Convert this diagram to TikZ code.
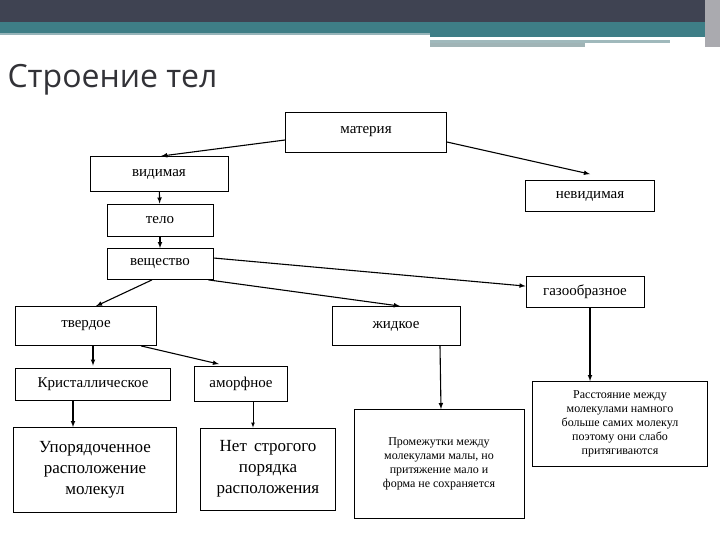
\documentclass[tikz,border=0pt]{standalone}
\usepackage{fontspec}
\setmainfont{Liberation Serif}
\newfontfamily\titlefont{Open Sans}
\begin{document}
\begin{tikzpicture}[x=1pt,y=1pt,
  bx/.style={draw,line width=0.8pt,inner sep=1pt,font=\fontsize{15}{17}\selectfont},
  big/.style={bx,align=center,font=\fontsize{17}{21}\selectfont},
  small/.style={bx,align=center,font=\fontsize{12}{14}\selectfont},
  ar/.style={-latex,line width=1.1pt}]
\useasboundingbox (0,0) rectangle (720,-540);
% header
\fill[fill={rgb,255:red,63;green,67;blue,82}] (0,0) rectangle (705,-22);
\fill[fill={rgb,255:red,62;green,126;blue,134}] (0,-22) rectangle (705,-33);
\fill[fill={rgb,255:red,150;green,180;blue,185}] (0,-33) rectangle (430,-35);
\fill[fill={rgb,255:red,62;green,126;blue,134}] (430,-33) rectangle (705,-37);
\fill[fill={rgb,255:red,160;green,185;blue,188}] (430,-40) rectangle (670,-43);
\fill[fill={rgb,255:red,160;green,180;blue,182}] (430,-43) rectangle (585,-47);
\fill[fill={rgb,255:red,170;green,170;blue,175}] (705,0) rectangle (720,-47);
\node[anchor=west,font=\titlefont\fontsize{32}{36}\selectfont,text={rgb,255:red,50;green,50;blue,55}] (title) at (4,-80) {Строение тел};
% nodes
\node[bx,minimum width=161,minimum height=40] (mat) at (366,-132) {материя};
\node[bx,minimum width=138,minimum height=35] (vid) at (159,-174) {видимая};
\node[bx,minimum width=129,minimum height=31] (nevid) at (590,-196) {невидимая};
\node[bx,minimum width=106,minimum height=32] (telo) at (160,-220) {тело};
\node[bx,minimum width=106,minimum height=31] (vesh) at (160,-264) {вещество};
\node[bx,minimum width=118,minimum height=31] (gaz) at (585,-292) {газообразное};
\node[bx,minimum width=141,minimum height=39] (tv) at (86,-326) {твердое};
\node[bx,minimum width=128,minimum height=39] (zh) at (396,-326) {жидкое};
\node[bx,minimum width=155,minimum height=32] (kr) at (93,-384) {Кристаллическое};
\node[bx,minimum width=93,minimum height=35] (am) at (241,-384) {аморфное};
\node[big,minimum width=163,minimum height=85] (up) at (95,-470) {Упорядоченное\\расположение\\молекул};
\node[big,minimum width=135,minimum height=82] (net) at (268,-469) {Нет \,строгого\\порядка\\расположения};
\node[small,minimum width=170,minimum height=109] (prom) at (439,-464) {Промежутки между\\молекулами малы, но\\притяжение мало и\\форма не сохраняется};
\node[small,minimum width=175,minimum height=85] (ras) at (620,-424) {Расстояние между\\молекулами намного\\больше самих молекул\\поэтому они слабо\\притягиваются};
% arrows
\draw[ar] (mat.west |- 0,-140) -- ([xshift=2]vid.north);
\draw[ar] (mat.east |- 0,-142) -- ([yshift=6]nevid.north);
\draw[ar] (vid) -- (telo);
\draw[ar] (telo) -- (vesh);
\draw[ar] (vesh.east |- 0,-258) -- ([yshift=-10]gaz.north west);
\draw[ar] ([xshift=-5]vesh.south east) -- ([xshift=4]zh.north);
\draw[ar] ([xshift=-8]vesh.south) -- ([xshift=10]tv.north);
\draw[ar] ([xshift=5]gaz.south) -- ([xshift=-30]ras.north);
\draw[ar] ([xshift=44]zh.south) -- ([xshift=2]prom.north);
\draw[ar] (tv.south -| kr.north) -- ([yshift=2]kr.north);
\draw[ar] ([xshift=55]tv.south) -- ([xshift=-22,yshift=2]am.north);
\draw[ar] (kr.south -| 73,0) -- (up.north -| 73,0);
\draw[-latex,line width=0.7pt] (am.south -| 253,0) -- (net.north -| 253,0);
\end{tikzpicture}
\end{document}
